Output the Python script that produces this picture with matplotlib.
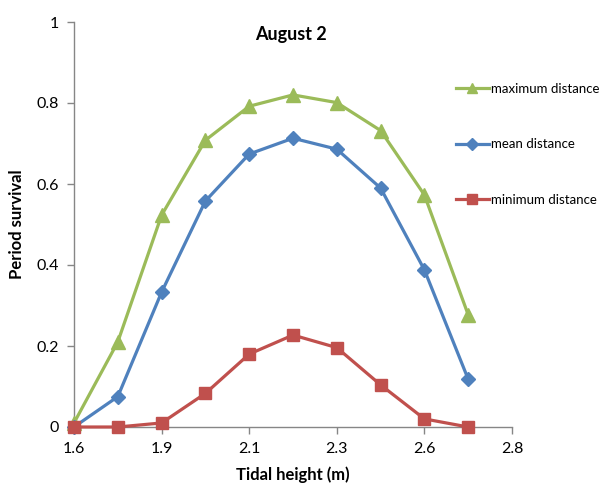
import numpy as np
import matplotlib.pyplot as plt

# Tidal height of each sample (m) and period survival for the three distances
tidal_height = [1.6, 1.72, 1.84, 1.96, 2.08, 2.2, 2.32, 2.44, 2.56, 2.68]
max_dist = [0.01, 0.21, 0.523, 0.708, 0.792, 0.82, 0.801, 0.732, 0.573, 0.277]
mean_dist = [0.0, 0.075, 0.333, 0.558, 0.674, 0.713, 0.686, 0.59, 0.388, 0.118]
min_dist = [0.0, 0.0, 0.01, 0.083, 0.18, 0.227, 0.196, 0.104, 0.02, 0.0]

xtick_pos = [1.6, 1.84, 2.08, 2.32, 2.56, 2.8]
xtick_labels = ["1.6", "1.9", "2.1", "2.3", "2.6", "2.8"]
ytick_pos = [0, 0.2, 0.4, 0.6, 0.8, 1.0]
ytick_labels = ["0", "0.2", "0.4", "0.6", "0.8", "1"]

plt.rcParams['font.family'] = ['Lato', 'DejaVu Sans']

W, H = 602, 487
fig = plt.figure(figsize=(W / 100, H / 100), dpi=100)
ax = fig.add_axes([74 / W, 1 - 427 / H, (512 - 74) / W, (427 - 22) / H])

green = '#9BBB59'
blue = '#4F81BD'
red = '#C0504D'

ax.plot(tidal_height, max_dist, color=green, lw=2.3, marker='^', markersize=10,
        label='maximum distance', clip_on=False, zorder=3)
ax.plot(tidal_height, mean_dist, color=blue, lw=2.3, marker='D', markersize=7.5,
        label='mean distance', clip_on=False, zorder=3)
ax.plot(tidal_height, min_dist, color=red, lw=2.3, marker='s', markersize=9,
        label='minimum distance', clip_on=False, zorder=4)

ax.set_xlim(1.6, 2.8)
ax.set_ylim(0, 1)
ax.set_xticks(xtick_pos)
ax.set_xticklabels(xtick_labels)
ax.set_yticks(ytick_pos)
ax.set_yticklabels(ytick_labels)
ax.tick_params(axis='both', direction='out', length=5, width=1, color='#868686',
               labelsize=11.5, pad=6)

for side in ['top', 'right']:
    ax.spines[side].set_visible(False)
for side in ['left', 'bottom']:
    ax.spines[side].set_color('#868686')
    ax.spines[side].set_linewidth(1)

ax.set_xlabel('Tidal height (m)', fontsize=12, fontweight='bold', labelpad=7)
ax.set_ylabel('Period survival', fontsize=12, fontweight='bold', labelpad=8)
ax.text(0.495, 0.968, 'August 2', transform=ax.transAxes, ha='center', va='center',
        fontsize=13, fontweight='bold')

fig.legend(loc='upper left', bbox_to_anchor=(449 / W, 1 - 76 / H), frameon=False,
           fontsize=9.5, labelspacing=3.3, handlelength=2.5, handletextpad=0.2,
           borderpad=0, markerscale=0.75)

fig.savefig('out.png', dpi=100)
